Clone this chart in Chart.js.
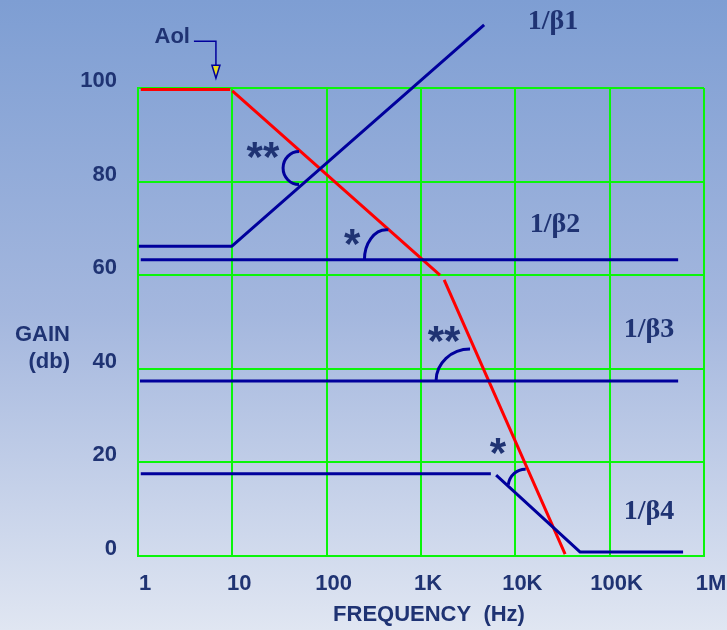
<!DOCTYPE html>
<html><head><meta charset="utf-8">
<script src="https://cdn.jsdelivr.net/npm/chart.js@4.4.1/dist/chart.umd.min.js"></script>
<style>
html,body{margin:0;padding:0;width:727px;height:630px;overflow:hidden;
background:linear-gradient(to bottom,#7e9ed3 0%,#a4b7de 50%,#e0e6f2 100%);}
canvas{display:block}
</style></head><body>
<canvas id="c" width="727" height="630"></canvas>
<script>
// ---- data (frequency in Hz, gain in dB); null = gap in the line ----
const xTicks  = [1, 10, 100, 1000, 10000, 100000, 1000000];
const xLabels = ['1', '10', '100', '1K', '10K', '100K', '1M'];
const yTicks  = [0, 20, 40, 60, 80, 100];

const aolFreq   = [1.07, 9.5, 9.8, 10, 1590, 1670, 1760, 33700];
const aolGain   = [99.7, 99.7, null, 99.4, 60.0, null, 59.0, 0.4];
const beta1Freq = [1.02, 9.9, 4670];
const beta1Gain = [66.2, 66.2, 113.5];
const beta2Freq = [1.07, 532000];
const beta2Gain = [63.3, 63.3];
const beta3Freq = [1.05, 532000];
const beta3Gain = [37.4, 37.4];
const beta4Freq = [1.07, 5500, 5900, 6260, 48700, 600000];
const beta4Gain = [17.6, 17.6, null, 17.3, 0.85, 0.85];

// ---- annotations (anchored in data coordinates) ----
const labelText = ['1/\u03b21', '1/\u03b22', '1/\u03b23', '1/\u03b24'];
const labelFreq = [25100, 26350, 261000, 261000];
const labelGain = [114.1, 70.7, 48.3, 9.4];

const starText = ['**', '*', '**', '*'];
const starFreq = [21.1, 186, 1754, 6550];
const starGain = [87.2, 68.6, 47.9, 24.0];

const arcFreq = [51, 430, 3310, 12700];
const arcGain = [82.9, 63.3, 37.4, 14.7];

const aolArrowFreq = 6.7, aolArrowGain = 102.1;

const NAVY = '#1f3373', BLUE = '#00009c', RED = '#ff0000', GREEN = '#0af50a';

function pts(fx, gy) { return fx.map((f, i) => ({x: f, y: gy[i]})); }

const annot = {
  id: 'annot',
  afterDatasetsDraw(chart) {
    const c = chart.ctx, xs = chart.scales.x, ys = chart.scales.y;
    c.save();
    // angle arcs
    const arcR = [[16, 16.5, 90, 270], [22, 30, 180, 275], [34, 32, 180, 270], [17, 18, 188, 272]];
    c.strokeStyle = BLUE; c.lineWidth = 3;
    arcFreq.forEach((f, i) => {
      const px = xs.getPixelForValue(f), py = ys.getPixelForValue(arcGain[i]);
      const r = arcR[i];
      c.beginPath();
      c.ellipse(px, py, r[0], r[1], 0, r[2] * Math.PI / 180, r[3] * Math.PI / 180, false);
      c.stroke();
    });
    // asterisks
    c.fillStyle = NAVY;
    const ss = 42;
    c.font = 'bold ' + ss + 'px "Liberation Sans", Arial, sans-serif';
    c.textAlign = 'center'; c.textBaseline = 'alphabetic';
    starText.forEach((t, i) => {
      c.fillText(t, xs.getPixelForValue(starFreq[i]), ys.getPixelForValue(starGain[i]) + 0.56 * ss);
    });
    // 1/beta labels
    c.font = 'bold 28px "Liberation Serif", "Times New Roman", serif';
    c.textBaseline = 'middle';
    labelText.forEach((t, i) => {
      c.fillText(t, xs.getPixelForValue(labelFreq[i]), ys.getPixelForValue(labelGain[i]));
    });
    // Aol pointer
    const tx = xs.getPixelForValue(aolArrowFreq), ty = ys.getPixelForValue(aolArrowGain);
    c.strokeStyle = BLUE; c.lineWidth = 1.5;
    c.beginPath();
    c.moveTo(tx - 22, ty - 37); c.lineTo(tx, ty - 37); c.lineTo(tx, ty - 13);
    c.stroke();
    c.beginPath();
    c.moveTo(tx - 4, ty - 13); c.lineTo(tx + 4, ty - 13); c.lineTo(tx, ty); c.closePath();
    c.fillStyle = '#e8dc20'; c.fill(); c.stroke();
    c.fillStyle = NAVY;
    c.font = 'bold 22px "Liberation Sans", Arial, sans-serif';
    c.textAlign = 'right';
    c.fillText('Aol', tx - 26, ty - 41);
    // axis titles
    c.fillText('GAIN', 70, 335);
    c.fillText('(db)', 70, 362);
    c.textAlign = 'center';
    c.fillText('FREQUENCY  (Hz)', 429, 615);
    c.restore();
  }
};

const lineDs = (data, color) => ({
  data, borderColor: color, borderWidth: 3, pointRadius: 0, fill: false,
  spanGaps: false, clip: false, tension: 0, borderCapStyle: 'butt', borderJoinStyle: 'round'
});

new Chart(document.getElementById('c'), {
  type: 'line',
  data: {
    datasets: [
      lineDs(pts(beta1Freq, beta1Gain), BLUE),
      lineDs(pts(beta2Freq, beta2Gain), BLUE),
      lineDs(pts(beta3Freq, beta3Gain), BLUE),
      lineDs(pts(beta4Freq, beta4Gain), BLUE),
      lineDs(pts(aolFreq, aolGain), RED)
    ]
  },
  options: {
    responsive: false, animation: false, devicePixelRatio: 1,
    layout: {padding: {left: 0, right: 23, top: 88, bottom: 0}},
    plugins: {legend: {display: false}, tooltip: {enabled: false}},
    scales: {
      x: {
        type: 'logarithmic', min: 1, max: 1e6,
        afterBuildTicks: s => { s.ticks = xTicks.map(v => ({value: v})); },
        afterFit: s => { s.height = 74; s.paddingLeft = 0; s.paddingRight = 0; },
        grid: {color: GREEN, lineWidth: 2, drawTicks: false},
        border: {color: GREEN, width: 2},
        ticks: {
          padding: 15, labelOffset: 7, color: NAVY, autoSkip: false, maxRotation: 0,
          font: {family: '"Liberation Sans", Arial, sans-serif', size: 22, weight: 'bold'},
          callback: (v, i) => xLabels[i]
        }
      },
      y: {
        type: 'linear', min: 0, max: 100,
        afterBuildTicks: s => { s.ticks = yTicks.map(v => ({value: v})); },
        afterFit: s => { s.width = 138; s.paddingTop = 0; s.paddingBottom = 0; },
        grid: {color: GREEN, lineWidth: 2, drawTicks: false},
        border: {color: GREEN, width: 2},
        ticks: {
          padding: 21, labelOffset: -7, color: NAVY,
          font: {family: '"Liberation Sans", Arial, sans-serif', size: 22, weight: 'bold'},
          callback: v => String(v)
        }
      }
    }
  },
  plugins: [annot]
});
</script>
</body></html>
